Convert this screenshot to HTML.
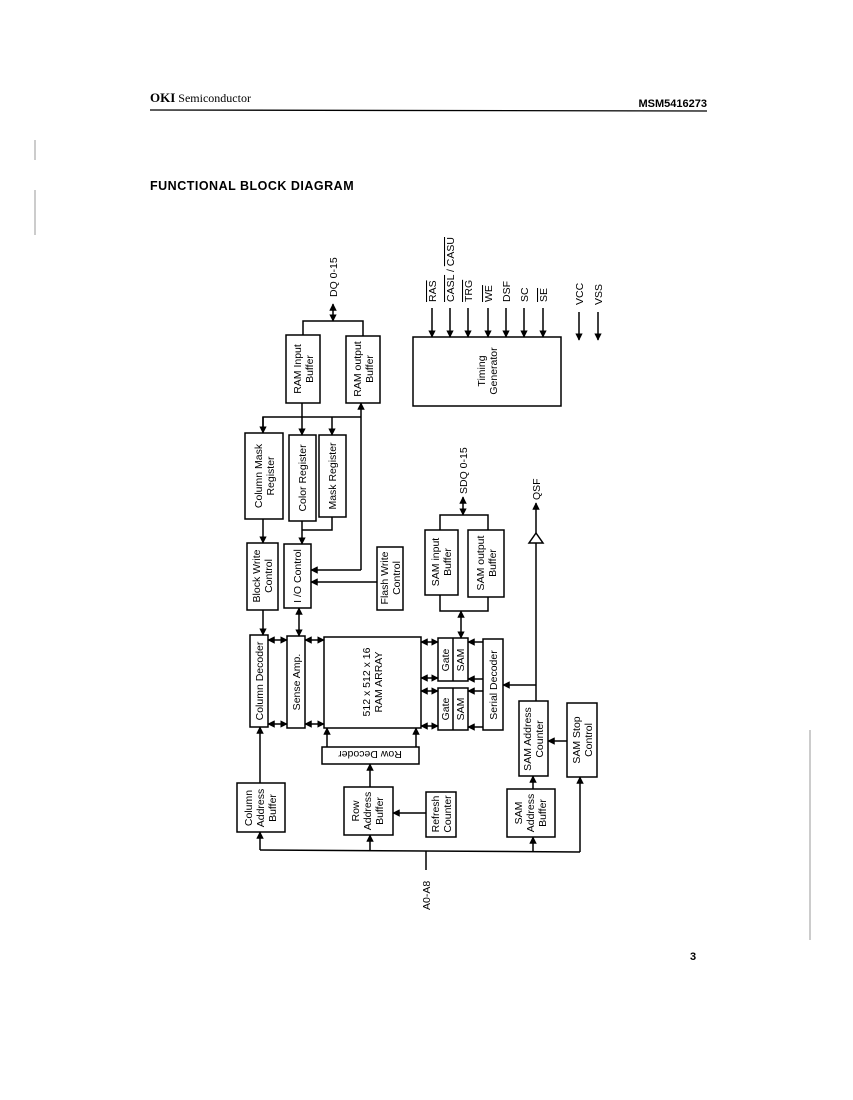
<!DOCTYPE html>
<html><head><meta charset="utf-8"><style>
html,body{margin:0;padding:0;background:#fff;}
svg{display:block;}
text{font-family:"Liberation Sans",sans-serif;fill:#000;}
.b{font-size:10.5px;}
</style></head><body>
<svg width="853" height="1100" viewBox="0 0 853 1100" xmlns="http://www.w3.org/2000/svg">
<defs>
<marker id="a" viewBox="0 0 10 10" refX="9" refY="5" markerWidth="5" markerHeight="5" orient="auto-start-reverse"><path d="M0,0 L10,5 L0,10 z" fill="#000"/></marker>
</defs>
<text x="150" y="102" font-size="12"><tspan font-family="Liberation Serif" font-weight="bold" font-size="13">OKI</tspan><tspan font-family="Liberation Serif"> Semiconductor</tspan></text>
<line x1="150" y1="110" x2="707" y2="111" stroke="#000" stroke-width="1.3"/>
<text x="707" y="107" font-size="11" font-weight="bold" text-anchor="end">MSM5416273</text>
<text x="150" y="190" font-size="12.5" font-weight="bold" letter-spacing="0.5">FUNCTIONAL BLOCK  DIAGRAM</text>
<text x="690" y="960" font-size="11" font-family="Liberation Serif" font-weight="bold">3</text>
<g stroke="#999" stroke-width="1"><line x1="35" y1="140" x2="35" y2="160"/><line x1="35" y1="190" x2="35" y2="235"/><line x1="810" y1="730" x2="810" y2="940"/></g>

<g fill="none" stroke="#000" stroke-width="1.5">
<rect x="286" y="335" width="34" height="68"/>
<rect x="346" y="336" width="34" height="67"/>
<rect x="413" y="337" width="148" height="69"/>
<rect x="245" y="433" width="38" height="86"/>
<rect x="289" y="435" width="27" height="86"/>
<rect x="319" y="435" width="27" height="82"/>
<rect x="247" y="543" width="31" height="67"/>
<rect x="284" y="544" width="27" height="64"/>
<rect x="377" y="547" width="26" height="63"/>
<rect x="425" y="530" width="33" height="65"/>
<rect x="468" y="530" width="36" height="67"/>
<rect x="250" y="635" width="18" height="92"/>
<rect x="287" y="636" width="18" height="92"/>
<rect x="324" y="637" width="97" height="91"/>
<rect x="322" y="747" width="97" height="17"/>
<rect x="438" y="638" width="30" height="43"/><line x1="453" y1="638" x2="453" y2="681"/>
<rect x="438" y="688" width="30" height="42"/><line x1="453" y1="688" x2="453" y2="730"/>
<rect x="483" y="639" width="20" height="91"/>
<rect x="519" y="701" width="29" height="75"/>
<rect x="567" y="703" width="30" height="74"/>
<rect x="507" y="789" width="48" height="48"/>
<rect x="237" y="783" width="48" height="49"/>
<rect x="344" y="787" width="49" height="48"/>
<rect x="426" y="792" width="30" height="45"/>
<polygon points="529,543 543,543 536,533"/>

<polyline points="303,335 303,321 363,321 363,336"/>
<line x1="333" y1="321" x2="333" y2="304" marker-start="url(#a)" marker-end="url(#a)"/>
<line x1="432" y1="308" x2="432" y2="337" marker-end="url(#a)"/>
<line x1="450" y1="308" x2="450" y2="337" marker-end="url(#a)"/>
<line x1="468" y1="308" x2="468" y2="337" marker-end="url(#a)"/>
<line x1="488" y1="308" x2="488" y2="337" marker-end="url(#a)"/>
<line x1="506" y1="308" x2="506" y2="337" marker-end="url(#a)"/>
<line x1="524" y1="308" x2="524" y2="337" marker-end="url(#a)"/>
<line x1="543" y1="308" x2="543" y2="337" marker-end="url(#a)"/>
<line x1="579" y1="312" x2="579" y2="340" marker-end="url(#a)"/>
<line x1="598" y1="312" x2="598" y2="340" marker-end="url(#a)"/>
<polyline points="263,433 263,417 361,417"/>
<line x1="263" y1="417" x2="263" y2="433" marker-end="url(#a)"/>
<line x1="302" y1="403" x2="302" y2="435" marker-end="url(#a)"/>
<line x1="332" y1="417" x2="332" y2="435" marker-end="url(#a)"/>
<line x1="361" y1="570" x2="361" y2="403" marker-end="url(#a)"/>
<line x1="361" y1="570" x2="311" y2="570" marker-end="url(#a)"/>
<line x1="377" y1="582" x2="311" y2="582" marker-end="url(#a)"/>
<line x1="263" y1="519" x2="263" y2="543" marker-end="url(#a)"/>
<polyline points="332,517 332,530 302,530"/>
<line x1="302" y1="521" x2="302" y2="544" marker-end="url(#a)"/>
<polyline points="440,530 440,515 488,515 488,530"/>
<line x1="463" y1="515" x2="463" y2="497" marker-start="url(#a)" marker-end="url(#a)"/>
<polyline points="440,595 440,611 488,611 488,597"/>
<line x1="461" y1="611" x2="461" y2="638" marker-start="url(#a)" marker-end="url(#a)"/>
<line x1="536" y1="533" x2="536" y2="503" marker-end="url(#a)"/>
<line x1="536" y1="543" x2="536" y2="701"/>
<line x1="536" y1="685" x2="503" y2="685" marker-end="url(#a)"/>
<line x1="263" y1="610" x2="263" y2="635" marker-end="url(#a)"/>
<line x1="299" y1="608" x2="299" y2="636" marker-start="url(#a)" marker-end="url(#a)"/>
<line x1="268" y1="640" x2="287" y2="640" marker-start="url(#a)" marker-end="url(#a)"/>
<line x1="268" y1="724" x2="287" y2="724" marker-start="url(#a)" marker-end="url(#a)"/>
<line x1="305" y1="640" x2="324" y2="640" marker-start="url(#a)" marker-end="url(#a)"/>
<line x1="305" y1="724" x2="324" y2="724" marker-start="url(#a)" marker-end="url(#a)"/>
<line x1="327" y1="747" x2="327" y2="728" marker-end="url(#a)"/>
<line x1="416" y1="747" x2="416" y2="728" marker-end="url(#a)"/>
<line x1="421" y1="642" x2="438" y2="642" marker-start="url(#a)" marker-end="url(#a)"/>
<line x1="421" y1="678" x2="438" y2="678" marker-start="url(#a)" marker-end="url(#a)"/>
<line x1="421" y1="691" x2="438" y2="691" marker-start="url(#a)" marker-end="url(#a)"/>
<line x1="421" y1="726" x2="438" y2="726" marker-start="url(#a)" marker-end="url(#a)"/>
<line x1="483" y1="642" x2="468" y2="642" marker-end="url(#a)"/>
<line x1="483" y1="679" x2="468" y2="679" marker-end="url(#a)"/>
<line x1="483" y1="691" x2="468" y2="691" marker-end="url(#a)"/>
<line x1="483" y1="727" x2="468" y2="727" marker-end="url(#a)"/>
<line x1="567" y1="741" x2="548" y2="741" marker-end="url(#a)"/>
<line x1="533" y1="789" x2="533" y2="776" marker-end="url(#a)"/>
<line x1="260" y1="783" x2="260" y2="727" marker-end="url(#a)"/>
<line x1="370" y1="787" x2="370" y2="764" marker-end="url(#a)"/>
<line x1="426" y1="813" x2="393" y2="813" marker-end="url(#a)"/>
<polyline points="260,850 580,852"/>
<line x1="260" y1="850" x2="260" y2="832" marker-end="url(#a)"/>
<line x1="370" y1="850" x2="370" y2="835" marker-end="url(#a)"/>
<line x1="533" y1="852" x2="533" y2="837" marker-end="url(#a)"/>
<line x1="580" y1="852" x2="580" y2="777" marker-end="url(#a)"/>
<line x1="426" y1="851" x2="426" y2="870"/>
</g>

<g class="b">
<text transform="translate(303,369) rotate(-90)" text-anchor="middle"><tspan x="0" dy="-2">RAM Input</tspan><tspan x="0" dy="12">Buffer</tspan></text>
<text transform="translate(363,369) rotate(-90)" text-anchor="middle"><tspan x="0" dy="-2">RAM output</tspan><tspan x="0" dy="12">Buffer</tspan></text>
<text transform="translate(487,371) rotate(-90)" text-anchor="middle"><tspan x="0" dy="-2">Timing</tspan><tspan x="0" dy="12">Generator</tspan></text>
<text transform="translate(264,476) rotate(-90)" text-anchor="middle"><tspan x="0" dy="-2">Column Mask</tspan><tspan x="0" dy="12">Register</tspan></text>
<text transform="translate(306,478) rotate(-90)" text-anchor="middle">Color Register</text>
<text transform="translate(336,476) rotate(-90)" text-anchor="middle">Mask Register</text>
<text transform="translate(262,576) rotate(-90)" text-anchor="middle"><tspan x="0" dy="-2">Block Write</tspan><tspan x="0" dy="12">Control</tspan></text>
<text transform="translate(301,576) rotate(-90)" text-anchor="middle">I /O Control</text>
<text transform="translate(390,578) rotate(-90)" text-anchor="middle"><tspan x="0" dy="-2">Flash Write</tspan><tspan x="0" dy="12">Control</tspan></text>
<text transform="translate(441,562) rotate(-90)" text-anchor="middle"><tspan x="0" dy="-2">SAM input</tspan><tspan x="0" dy="12">Buffer</tspan></text>
<text transform="translate(486,563) rotate(-90)" text-anchor="middle"><tspan x="0" dy="-2">SAM output</tspan><tspan x="0" dy="12">Buffer</tspan></text>
<text transform="translate(263,681) rotate(-90)" text-anchor="middle">Column Decoder</text>
<text transform="translate(300,682) rotate(-90)" text-anchor="middle">Sense Amp.</text>
<text transform="translate(372,682) rotate(-90)" text-anchor="middle"><tspan x="0" dy="-2">512 x 512 x 16</tspan><tspan x="0" dy="12">RAM ARRAY</tspan></text>
<text transform="translate(370,755) rotate(180)" text-anchor="middle" dy="4">Row Decoder</text>
<text transform="translate(449,660) rotate(-90)" text-anchor="middle">Gate</text>
<text transform="translate(464,660) rotate(-90)" text-anchor="middle">SAM</text>
<text transform="translate(449,709) rotate(-90)" text-anchor="middle">Gate</text>
<text transform="translate(464,709) rotate(-90)" text-anchor="middle">SAM</text>
<text transform="translate(497,685) rotate(-90)" text-anchor="middle">Serial Decoder</text>
<text transform="translate(533,739) rotate(-90)" text-anchor="middle"><tspan x="0" dy="-2">SAM Address</tspan><tspan x="0" dy="12">Counter</tspan></text>
<text transform="translate(582,740) rotate(-90)" text-anchor="middle"><tspan x="0" dy="-2">SAM Stop</tspan><tspan x="0" dy="12">Control</tspan></text>
<text transform="translate(531,813) rotate(-90)" text-anchor="middle"><tspan x="0" dy="-9">SAM</tspan><tspan x="0" dy="12">Address</tspan><tspan x="0" dy="12">Buffer</tspan></text>
<text transform="translate(261,808) rotate(-90)" text-anchor="middle"><tspan x="0" dy="-9">Column</tspan><tspan x="0" dy="12">Address</tspan><tspan x="0" dy="12">Buffer</tspan></text>
<text transform="translate(368,811) rotate(-90)" text-anchor="middle"><tspan x="0" dy="-9">Row</tspan><tspan x="0" dy="12">Address</tspan><tspan x="0" dy="12">Buffer</tspan></text>
<text transform="translate(441,814) rotate(-90)" text-anchor="middle"><tspan x="0" dy="-2">Refresh</tspan><tspan x="0" dy="12">Counter</tspan></text>
<text transform="translate(337,297) rotate(-90)">DQ 0-15</text>
<text transform="translate(467,494) rotate(-90)">SDQ 0-15</text>
<text transform="translate(540,500) rotate(-90)">QSF</text>
<text transform="translate(436,302) rotate(-90)" text-decoration="overline">RAS</text>
<text transform="translate(454,302) rotate(-90)"><tspan text-decoration="overline">CASL</tspan> / <tspan text-decoration="overline">CASU</tspan></text>
<text transform="translate(472,302) rotate(-90)" text-decoration="overline">TRG</text>
<text transform="translate(492,302) rotate(-90)" text-decoration="overline">WE</text>
<text transform="translate(510,302) rotate(-90)">DSF</text>
<text transform="translate(528,302) rotate(-90)">SC</text>
<text transform="translate(547,302) rotate(-90)" text-decoration="overline">SE</text>
<text transform="translate(583,305) rotate(-90)">VCC</text>
<text transform="translate(602,305) rotate(-90)">VSS</text>
<text transform="translate(430,910) rotate(-90)">A0-A8</text>
</g>
</svg>
</body></html>
